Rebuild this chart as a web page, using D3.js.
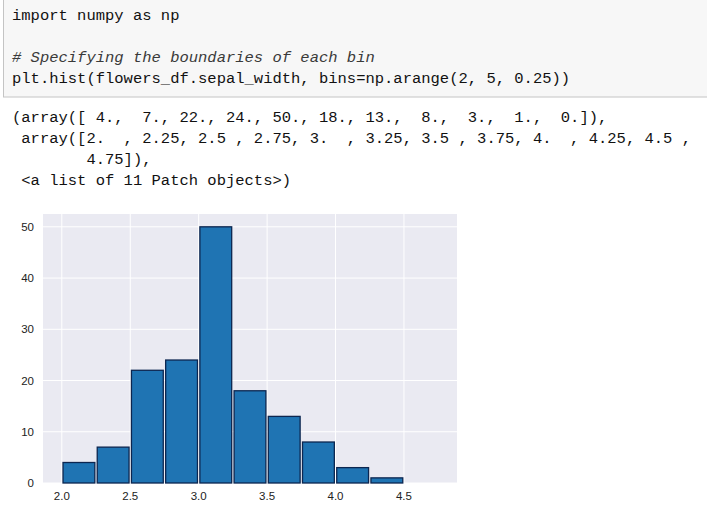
<!DOCTYPE html>
<html>
<head>
<meta charset="utf-8">
<script src="https://cdn.jsdelivr.net/npm/d3@7"></script>
<style>
  body { margin: 0; background: #fff; }
  svg { display: block; }
</style>
</head>
<body>
<div id="container"></div>
<script>
/**
 * DATA
 * */
const codeLines = [
    "import numpy as np",
    "",
    "# Specifying the boundaries of each bin",
    "plt.hist(flowers_df.sepal_width, bins=np.arange(2, 5, 0.25))"
]
const outputLines = [
    "(array([ 4.,  7., 22., 24., 50., 18., 13.,  8.,  3.,  1.,  0.]),",
    " array([2.  , 2.25, 2.5 , 2.75, 3.  , 3.25, 3.5 , 3.75, 4.  , 4.25, 4.5 ,",
    "        4.75]),",
    " <a list of 11 Patch objects>)"
]
const binEdges = [2, 2.25, 2.5, 2.75, 3, 3.25, 3.5, 3.75, 4, 4.25, 4.5, 4.75]
const counts = [4, 7, 22, 24, 50, 18, 13, 8, 3, 1, 0]
const xTicks = [2.0, 2.5, 3.0, 3.5, 4.0, 4.5]
const yTicks = [0, 10, 20, 30, 40, 50]

/**
 * CONSTANTS
 * */
const w = 707
const h = 506
const plot = { left: 43, right: 457, top: 214, bottom: 483 }

const svg = d3.select("#container")
    .append("svg")
    .attr("width", w)
    .attr("height", h)

// code cell
svg.append("rect")
    .attr("x", 3.5).attr("y", -2)
    .attr("width", w + 10).attr("height", 99)
    .attr("fill", "#f7f7f7")
    .attr("stroke", "#c4c4c4")

const monoFont = "'Liberation Mono', 'DejaVu Sans Mono', monospace"

svg.selectAll("text.code")
    .data(codeLines)
    .join("text")
    .attr("class", "code")
    .attr("x", 12)
    .attr("y", (d, i) => 19.5 + i * 21)
    .attr("xml:space", "preserve")
    .style("font-family", monoFont)
    .style("font-size", "15.5px")
    .style("font-style", d => d.startsWith("#") ? "italic" : "normal")
    .attr("fill", d => d.startsWith("#") ? "#3a3a3a" : "#111")
    .text(d => d)

svg.selectAll("text.out")
    .data(outputLines)
    .join("text")
    .attr("class", "out")
    .attr("x", 12)
    .attr("y", (d, i) => 122 + i * 21)
    .attr("xml:space", "preserve")
    .style("font-family", monoFont)
    .style("font-size", "15.5px")
    .attr("fill", "#111")
    .text(d => d)

// scales (matplotlib-style 5% margin on x, 5% top on y)
const xSpan = binEdges[binEdges.length - 1] - binEdges[0]
const xScale = d3.scaleLinear()
    .domain([binEdges[0] - xSpan * 0.05, binEdges[binEdges.length - 1] + xSpan * 0.05])
    .range([plot.left, plot.right])

const yScale = d3.scaleLinear()
    .domain([0, d3.max(counts) * 1.05])
    .range([plot.bottom, plot.top])

// background
svg.append("rect")
    .attr("x", plot.left).attr("y", plot.top)
    .attr("width", plot.right - plot.left)
    .attr("height", plot.bottom - plot.top)
    .attr("fill", "#eaeaf2")

// gridlines
svg.append("g")
    .selectAll("line")
    .data(xTicks)
    .join("line")
    .attr("x1", d => xScale(d)).attr("x2", d => xScale(d))
    .attr("y1", plot.top).attr("y2", plot.bottom)
    .attr("stroke", "#fff").attr("stroke-width", 1)

svg.append("g")
    .selectAll("line")
    .data(yTicks)
    .join("line")
    .attr("x1", plot.left).attr("x2", plot.right)
    .attr("y1", d => yScale(d)).attr("y2", d => yScale(d))
    .attr("stroke", "#fff").attr("stroke-width", 1)

// bars
const bins = counts.map((c, i) => ({ x0: binEdges[i], x1: binEdges[i + 1], count: c }))

svg.append("g")
    .selectAll("rect")
    .data(bins.filter(d => d.count > 0))
    .join("rect")
    .attr("x", d => xScale(d.x0) + 1.2)
    .attr("y", d => yScale(d.count))
    .attr("width", d => xScale(d.x1) - xScale(d.x0) - 2.4)
    .attr("height", d => yScale(0) - yScale(d.count))
    .attr("fill", "#1f74b3")
    .attr("stroke", "#0c2650")
    .attr("stroke-width", 1.3)

// tick labels
const sansFont = "'Liberation Sans', Arial, sans-serif"

svg.append("g")
    .selectAll("text")
    .data(yTicks)
    .join("text")
    .attr("x", 34)
    .attr("y", d => yScale(d) + 4)
    .attr("text-anchor", "end")
    .style("font-family", sansFont)
    .style("font-size", "11.5px")
    .attr("fill", "#222")
    .text(d => d)

svg.append("g")
    .selectAll("text")
    .data(xTicks)
    .join("text")
    .attr("x", d => xScale(d))
    .attr("y", 500)
    .attr("text-anchor", "middle")
    .style("font-family", sansFont)
    .style("font-size", "11.5px")
    .attr("fill", "#222")
    .text(d => d3.format(".1f")(d))
</script>
</body>
</html>
